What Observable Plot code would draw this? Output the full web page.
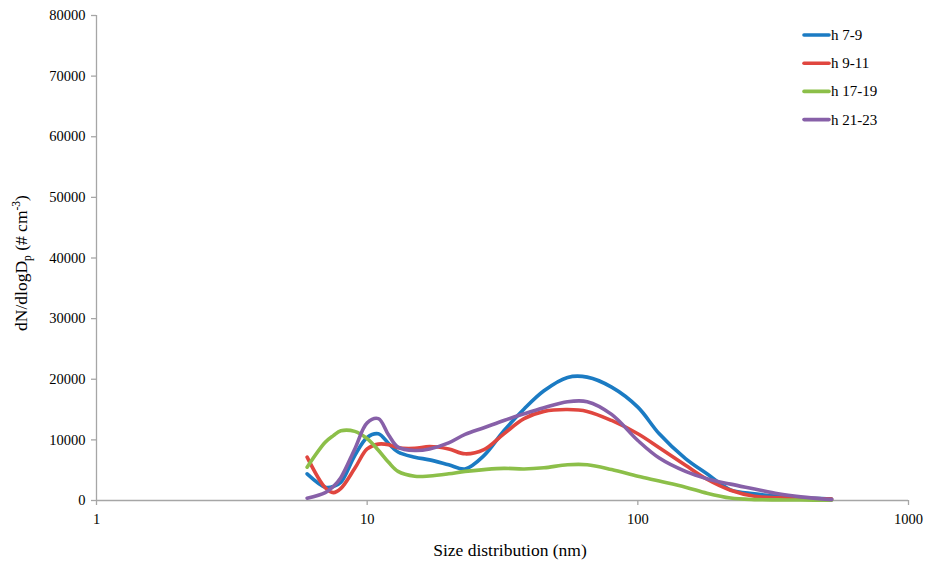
<!DOCTYPE html>
<html>
<head>
<meta charset="utf-8">
<script src="https://cdn.jsdelivr.net/npm/d3@7"></script>
<script src="https://cdn.jsdelivr.net/npm/@observablehq/plot@0.6"></script>
<style>
  html, body { margin: 0; padding: 0; background: #fff; }
  #chart { width: 925px; height: 562px; }
</style>
</head>
<body>
<div id="chart"></div>
<script>
// Particle size (nm)
const sizes = [6, 7, 7.5, 8, 9, 10, 11, 12, 13, 15, 17, 20, 23, 27, 32, 38, 45, 55, 65, 80, 100, 120, 150, 180, 220, 270, 330, 400, 520];
// dN/dlogDp values per time window
const h7_9   = [4400, 2200, 2300, 3000, 7400, 10400, 11000, 9400, 8000, 7150, 6700, 5900, 5200, 7400, 11500, 15100, 18100, 20300, 20350, 18700, 15400, 11000, 6900, 4400, 1760, 1100, 700, 450, 250];
const h9_11  = [7150, 2100, 1300, 2000, 5300, 8500, 9300, 9200, 8700, 8600, 8900, 8500, 7700, 8400, 11000, 13500, 14700, 15000, 14700, 13200, 11000, 8700, 5800, 3500, 1700, 700, 450, 350, 250];
const h17_19 = [5500, 9600, 10700, 11500, 11400, 10200, 8300, 6300, 4800, 4000, 4050, 4400, 4800, 5100, 5300, 5200, 5400, 5900, 5900, 5100, 4000, 3200, 2200, 1200, 400, 150, 100, 80, 50];
const h21_23 = [380, 1300, 2300, 3800, 8500, 12800, 13500, 10800, 8800, 8250, 8500, 9500, 10900, 12000, 13200, 14300, 15300, 16300, 16300, 14200, 9900, 7000, 4800, 3600, 2700, 1900, 1100, 600, 150];

const seriesNames = ["h 7-9", "h 9-11", "h 17-19", "h 21-23"];
const seriesValues = [h7_9, h9_11, h17_19, h21_23];
const colors = ["#1B7BC3", "#E0463F", "#8CBF49", "#8760A8"];

const yTicks = [0, 10000, 20000, 30000, 40000, 50000, 60000, 70000, 80000];
const xTicks = [1, 10, 100, 1000];

const data = [];
seriesNames.forEach((name, i) => {
  sizes.forEach((s, j) => data.push({series: name, size: s, value: seriesValues[i][j]}));
});

const axisColor = "#A6A6A6";
const serif = "'Liberation Serif', 'Times New Roman', 'DejaVu Serif', serif";

const plot = Plot.plot({
  width: 925,
  height: 562,
  marginLeft: 96,
  marginRight: 17,
  marginTop: 15,
  marginBottom: 62,
  style: {background: "#fff", color: "#000"},
  x: {type: "log", domain: [1, 1000], label: null},
  y: {type: "linear", domain: [0, 80000], label: null},
  marks: [
    Plot.ruleY([0], {stroke: axisColor, strokeWidth: 1.3}),
    Plot.ruleX([1], {stroke: axisColor, strokeWidth: 1.3}),
    Plot.axisX({ticks: xTicks, tickFormat: d3.format("d"), tickSize: 5, tickPadding: 8, stroke: axisColor, strokeWidth: 1.3, fill: "#000", label: null}),
    Plot.axisY({ticks: yTicks, tickFormat: d3.format("d"), tickSize: 5, tickPadding: 6, stroke: axisColor, strokeWidth: 1.3, fill: "#000", label: null}),
    Plot.line(data, {x: "size", y: "value", z: "series", stroke: d => colors[seriesNames.indexOf(d.series)], strokeWidth: 3.6, curve: "catmull-rom", strokeLinejoin: "round", strokeLinecap: "round"})
  ]
});

document.getElementById("chart").appendChild(plot);

const svg = d3.select(plot);

// x-axis title
svg.append("text")
  .attr("x", 510).attr("y", 556)
  .attr("text-anchor", "middle")
  .style("font-size", "17.5px")
  .attr("fill", "#000")
  .text("Size distribution (nm)");

// y-axis title with subscript/superscript
const yl = svg.append("text")
  .attr("transform", "translate(27,263) rotate(-90)")
  .attr("text-anchor", "middle")
  .style("font-size", "17.5px")
  .attr("fill", "#000");
yl.append("tspan").text("dN/dlogD");
yl.append("tspan").style("font-size", "11.5px").attr("dy", 4).text("p");
yl.append("tspan").attr("dy", -4).text(" (# cm");
yl.append("tspan").style("font-size", "11.5px").attr("dy", -7).text("-3");
yl.append("tspan").attr("dy", 7).text(")");

// legend
const lg = svg.append("g").attr("text-anchor", "start");
seriesNames.forEach((name, i) => {
  const y = 35 + i * 28.2;
  lg.append("line").attr("x1", 804).attr("x2", 829).attr("y1", y).attr("y2", y)
    .attr("stroke", colors[i]).attr("stroke-width", 3.6).attr("stroke-linecap", "round");
  lg.append("text").attr("x", 831).attr("y", y + 5).attr("text-anchor", "start")
    .style("font-size", "15px").attr("fill", "#000").text(name);
});

// fonts: serif everywhere, tick labels 14.5px
svg.attr("font-family", serif).style("font-family", serif);
svg.selectAll("text").style("font-family", serif);
svg.selectAll("[aria-label='x-axis tick label'] text, [aria-label='y-axis tick label'] text")
  .style("font-size", "14.5px").attr("fill", "#000");
</script>
</body>
</html>
